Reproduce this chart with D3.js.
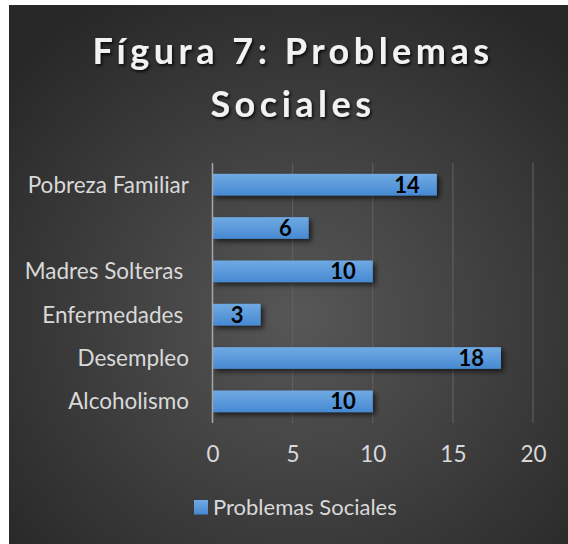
<!DOCTYPE html>
<html>
<head>
<meta charset="utf-8">
<script src="https://cdn.jsdelivr.net/npm/d3@7"></script>
<style>
  body { margin: 0; background: #fff; }
  svg { display: block; }
</style>
</head>
<body>
<svg id="chart"></svg>
<script>
// bottom to top, like the Excel chart
const categories = ['Alcoholismo', 'Desempleo', 'Enfermedades ', 'Madres Solteras ', '', 'Pobreza Familiar']
const values = [10, 18, 3, 10, 6, 14]
const xTicks = [0, 5, 10, 15, 20]
const seriesName = 'Problemas Sociales'
const titleLines = ['Fígura 7: Problemas', 'Sociales']

const W = 568, H = 544
const svg = d3.select('#chart').attr('width', W).attr('height', H)
const defs = svg.append('defs')

const bg = defs.append('radialGradient').attr('id', 'bg')
	.attr('cx', '52%').attr('cy', '58%').attr('r', '68%')
bg.append('stop').attr('offset', '0%').attr('stop-color', '#575757')
bg.append('stop').attr('offset', '100%').attr('stop-color', '#282828')

const barGrad = defs.append('linearGradient').attr('id', 'barGrad')
	.attr('x1', 0).attr('y1', 0).attr('x2', 0).attr('y2', 1)
barGrad.append('stop').attr('offset', '0%').attr('stop-color', '#70aae3')
barGrad.append('stop').attr('offset', '100%').attr('stop-color', '#4689d2')

const shadow = defs.append('filter').attr('id', 'shadow')
	.attr('x', '-10%').attr('y', '-30%').attr('width', '130%').attr('height', '180%')
shadow.append('feDropShadow').attr('dx', 3).attr('dy', 3).attr('stdDeviation', 2.5)
	.attr('flood-color', '#000').attr('flood-opacity', 0.6)

const tshadow = defs.append('filter').attr('id', 'tshadow')
	.attr('x', '-10%').attr('y', '-30%').attr('width', '120%').attr('height', '180%')
tshadow.append('feDropShadow').attr('dx', 1.5).attr('dy', 2).attr('stdDeviation', 1.5)
	.attr('flood-color', '#000').attr('flood-opacity', 0.8)

svg.append('rect').attr('x', 9).attr('y', 5).attr('width', W - 9).attr('height', H - 5)
	.attr('fill', 'url(#bg)')

// title
const title = svg.append('text')
	.attr('text-anchor', 'middle')
	.attr('font-family', 'Lato, sans-serif')
	.attr('font-weight', 'bold')
	.attr('font-size', 36)
	.attr('letter-spacing', 4.5)
	.attr('fill', '#f2f2f2')
	.attr('filter', 'url(#tshadow)')
titleLines.forEach((t, i) => {
	title.append('tspan').attr('x', 293).attr('y', 64 + i * 52.5).text(t)
})

const x = d3.scaleLinear().domain([0, 20]).range([212.5, 533])
const y = d3.scaleBand().domain(d3.range(categories.length))
	.range([423, 163]).paddingInner(0.5).paddingOuter(0.25)

// gridlines
svg.append('g').selectAll('line')
	.data(xTicks.slice(1))
	.enter().append('line')
	.attr('x1', d => x(d)).attr('x2', d => x(d))
	.attr('y1', 163).attr('y2', 423)
	.attr('stroke', '#626262').attr('stroke-width', 1)

// bars
svg.append('g').selectAll('rect')
	.data(values)
	.enter().append('rect')
	.attr('x', x(0))
	.attr('y', (d, i) => y(i))
	.attr('width', d => x(d) - x(0))
	.attr('height', y.bandwidth())
	.attr('fill', 'url(#barGrad)')
	.attr('filter', 'url(#shadow)')

// value axis line
svg.append('line')
	.attr('x1', x(0)).attr('x2', x(0)).attr('y1', 163).attr('y2', 423)
	.attr('stroke', '#a6a6a6').attr('stroke-width', 1.5)

// data labels
svg.append('g').selectAll('text')
	.data(values)
	.enter().append('text')
	.attr('x', d => x(d) - 17)
	.attr('y', (d, i) => y(i) + y.bandwidth() / 2 + 8)
	.attr('text-anchor', 'end')
	.attr('font-family', 'Lato, sans-serif')
	.attr('font-weight', 'bold')
	.attr('font-size', 22)
	.attr('fill', '#000')
	.text(d => d)

// category labels
svg.append('g').selectAll('text')
	.data(categories)
	.enter().append('text')
	.attr('x', 189)
	.attr('y', (d, i) => y(i) + y.bandwidth() / 2 + 8)
	.attr('text-anchor', 'end')
	.attr('font-family', 'Lato, sans-serif')
	.attr('font-size', 22.5)
	.attr('fill', '#d9d9d9')
	.style('white-space', 'pre')
	.text(d => d)

// x axis tick labels
const xAxis = svg.append('g')
	.attr('transform', 'translate(0,423)')
	.call(d3.axisBottom(x).tickValues(xTicks).tickSize(0).tickPadding(39))
xAxis.select('.domain').remove()
xAxis.selectAll('text')
	.attr('font-family', 'Lato, sans-serif')
	.attr('font-size', 22.5)
	.attr('fill', '#d9d9d9')
	.attr('dy', 0)

// legend
svg.append('rect').attr('x', 194).attr('y', 500).attr('width', 14).attr('height', 14.5)
	.attr('fill', 'url(#barGrad)')
svg.append('text').attr('x', 213).attr('y', 515)
	.attr('font-family', 'Lato, sans-serif')
	.attr('font-size', 22)
	.attr('fill', '#d9d9d9')
	.text(seriesName)
</script>
</body>
</html>
